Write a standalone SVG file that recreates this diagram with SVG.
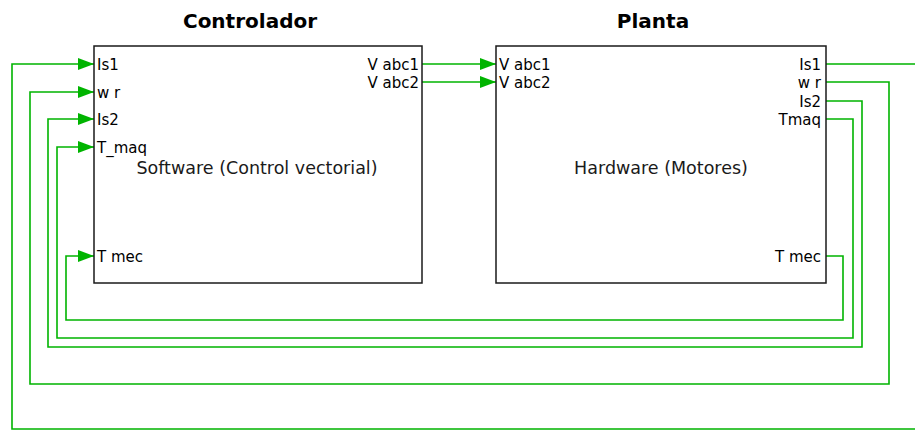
<svg xmlns="http://www.w3.org/2000/svg" width="915" height="430" viewBox="0 0 915 430">
<style>
.box{fill:#fff;stroke:#1a1a1a;stroke-width:1.5}
.title{font-family:"DejaVu Sans",sans-serif;font-weight:bold;font-size:20px;fill:#000;text-anchor:middle}
.main{font-family:"DejaVu Sans",sans-serif;font-size:17.5px;fill:#1a1a1a;text-anchor:middle}
.port{font-family:"DejaVu Sans",sans-serif;font-size:15px;fill:#000}
.end{text-anchor:end}
.wire{fill:none;stroke:#00b400;stroke-width:1.6}
.arrow{marker-end:url(#ah)}
</style>
<defs>
<marker id="ah" markerUnits="userSpaceOnUse" markerWidth="16" markerHeight="12" refX="16" refY="6" orient="auto">
<path d="M0,0 L16,6 L0,12 z" fill="#00b400"/>
</marker>
</defs>
<g id="connectors">
<path class="wire arrow" d="M422,64 H496"/>
<path class="wire arrow" d="M422,82 H496"/>
<path class="wire arrow" d="M826,64 H930 V429 H12 V64 H94"/>
<path class="wire arrow" d="M826,82 H889 V384 H30 V92 H94"/>
<path class="wire arrow" d="M826,101 H862 V347 H48 V119 H94"/>
<path class="wire arrow" d="M826,119 H853 V338 H57 V147 H94"/>
<path class="wire arrow" d="M826,256 H843 V320 H66 V256 H94"/>
</g>
<g id="controlador">
<text class="title" x="250" y="28">Controlador</text>
<rect class="box" x="94" y="46" width="328" height="237"/>
<text class="main" x="257" y="174">Software (Control vectorial)</text>
<text class="port" x="97" y="70">Is1</text>
<text class="port" x="97" y="98">w r</text>
<text class="port" x="97" y="125">Is2</text>
<text class="port" x="97" y="153">T_maq</text>
<text class="port" x="97" y="262">T mec</text>
<text class="port end" x="419" y="70">V abc1</text>
<text class="port end" x="419" y="88">V abc2</text>
</g>
<g id="planta">
<text class="title" x="653" y="28">Planta</text>
<rect class="box" x="496" y="46" width="330" height="237"/>
<text class="main" x="661" y="174">Hardware (Motores)</text>
<text class="port" x="499" y="70">V abc1</text>
<text class="port" x="499" y="88">V abc2</text>
<text class="port end" x="821" y="70">Is1</text>
<text class="port end" x="821" y="88">w r</text>
<text class="port end" x="821" y="107">Is2</text>
<text class="port end" x="821" y="125">Tmaq</text>
<text class="port end" x="821" y="262">T mec</text>
</g>
</svg>
